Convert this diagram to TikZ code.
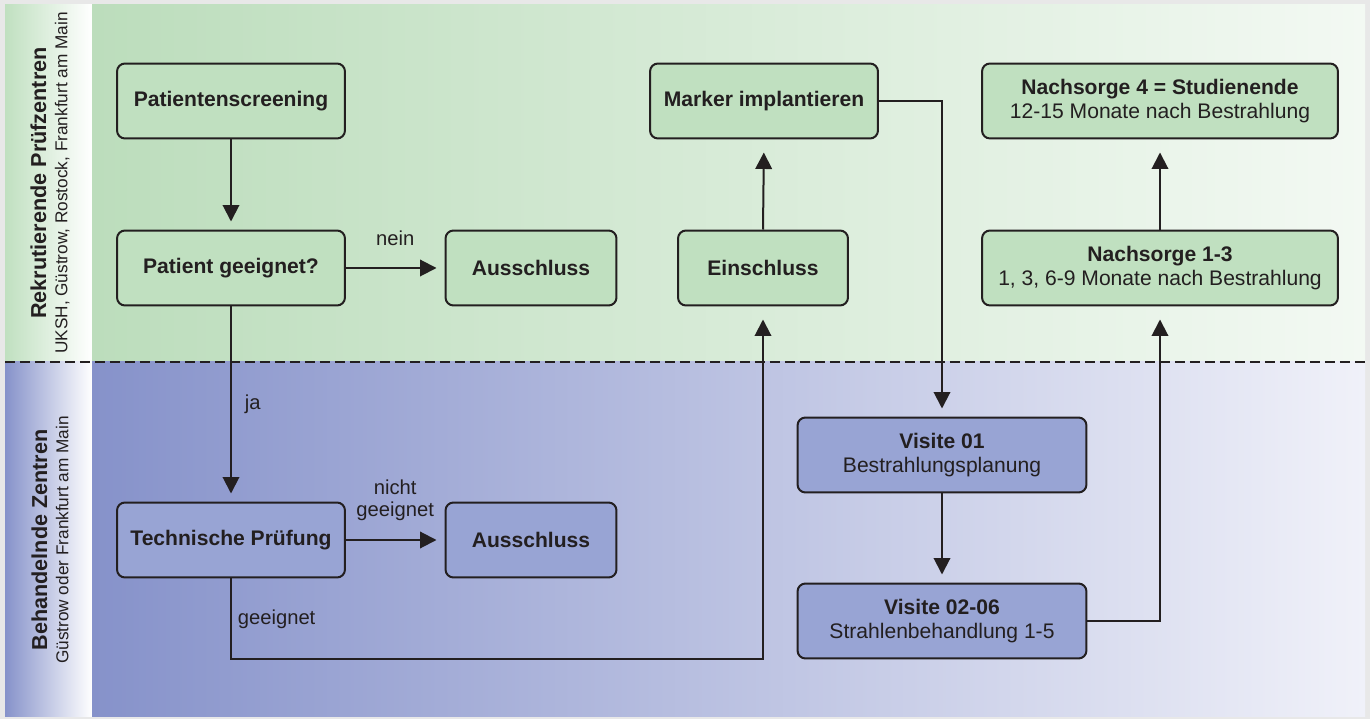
\documentclass[tikz,border=0pt]{standalone}
\usepackage{fontspec}
\setmainfont{Liberation Sans}
\usetikzlibrary{arrows.meta,positioning}

\definecolor{ink}{RGB}{35,31,32}
\definecolor{framegrey}{RGB}{232,232,232}
\definecolor{boxgreen}{RGB}{192,224,192}
\definecolor{boxblue}{RGB}{152,164,212}
\definecolor{greenleft}{RGB}{188,221,188}
\definecolor{greenright}{RGB}{243,249,243}
\definecolor{blueleft}{RGB}{134,146,202}
\definecolor{blueright}{RGB}{240,241,249}

\tikzset{
  stepbox/.style={draw=ink, line width=0.04cm, rounded corners=0.16cm,
    minimum height=1.5cm, align=center, text=ink, inner sep=2pt,
    font=\fontsize{12}{14}\selectfont},
  greenbox/.style={stepbox, fill=boxgreen},
  bluebox/.style={stepbox, fill=boxblue},
  edgelabel/.style={text=ink, align=center, font=\fontsize{11.5}{12.5}\selectfont},
  link/.style={draw=ink, line width=0.04cm},
}

\begin{document}
\begin{tikzpicture}[x=0.02cm, y=-0.02cm, >={Triangle[length=0.33cm,width=0.33cm]}]
  \fill[framegrey] (0,0) rectangle (1370,719);
  \shade[left color=boxgreen, right color=white] (5,5) rectangle (92,362);
  \shade[left color=blueleft, right color=white] (5,362) rectangle (92,716);
  \shade[left color=greenleft, right color=greenright] (92,5) rectangle (1365,362);
  \shade[left color=blueleft, right color=blueright] (92,362) rectangle (1365,716);
  \draw[ink, line width=0.04cm, dash pattern=on 0.2cm off 0.1cm] (5,362) -- (1365,362);

  \node[rotate=90, align=center, text=ink] (recruit) at (50,183)
    {{\fontsize{12.3}{15}\selectfont\bfseries Rekrutierende Prüfzentren}\\
     {\fontsize{9.8}{11}\selectfont UKSH, Güstrow, Rostock, Frankfurt am Main}};
  \node[rotate=90, align=center, text=ink] (treat) at (50,540)
    {{\fontsize{12.3}{15}\selectfont\bfseries Behandelnde Zentren}\\
     {\fontsize{9.8}{11}\selectfont Güstrow oder Frankfurt am Main}};

  \node[greenbox, minimum width=4.56cm] (screen) at (231,101) {\textbf{Patientenscreening}};
  \node[greenbox, minimum width=4.56cm] (check) at (231,268) {\textbf{Patient geeignet?}};
  \node[greenbox, minimum width=3.42cm] (out1) at (531,268) {\textbf{Ausschluss}};
  \node[greenbox, minimum width=3.40cm] (incl) at (763,268) {\textbf{Einschluss}};
  \node[greenbox, minimum width=4.56cm] (marker) at (764,101) {\textbf{Marker implantieren}};
  \node[greenbox, minimum width=7.12cm] (fu4) at (1160,101)
    {\textbf{Nachsorge 4 = Studienende}\\12-15 Monate nach Bestrahlung};
  \node[greenbox, minimum width=7.12cm] (fu13) at (1160,268)
    {\textbf{Nachsorge 1-3}\\1, 3, 6-9 Monate nach Bestrahlung};
  \node[bluebox, minimum width=4.56cm] (tech) at (231,540) {\textbf{Technische Prüfung}};
  \node[bluebox, minimum width=3.42cm] (out2) at (531,540) {\textbf{Ausschluss}};
  \node[bluebox, minimum width=5.78cm] (visit1) at (942,455)
    {\textbf{Visite 01}\\Bestrahlungsplanung};
  \node[bluebox, minimum width=5.78cm] (visit2) at (942,621)
    {\textbf{Visite 02-06}\\Strahlenbehandlung 1-5};

  \draw[link, ->, shorten >=0.16cm] (screen.south) -- (check.north);
  \draw[link, ->, shorten >=0.16cm] (check.east) -- node[edgelabel, above=9pt] {nein} (out1.west);
  \draw[link, ->, shorten >=0.16cm] (check.south) -- node[edgelabel, right=4pt] {ja} (tech.north);
  \draw[link, ->, shorten >=0.16cm] (tech.east) -- node[edgelabel, above=7pt] {nicht\\geeignet} (out2.west);
  \draw[link, ->, shorten >=0.26cm] (tech.south) -- node[edgelabel, right=0pt] {geeignet} (tech.south |- visit2.south) -| (incl.south);
  \draw[link, ->, shorten >=0.26cm] (incl.north) -- (marker.south);
  \draw[link, ->, shorten >=0.16cm] (marker.east) -| (visit1.north);
  \draw[link, ->, shorten >=0.16cm] (visit1.south) -- (visit2.north);
  \draw[link, ->, shorten >=0.26cm] (visit2.east) -| (fu13.south);
  \draw[link, ->, shorten >=0.26cm] (fu13.north) -- (fu4.south);
\end{tikzpicture}
\end{document}
